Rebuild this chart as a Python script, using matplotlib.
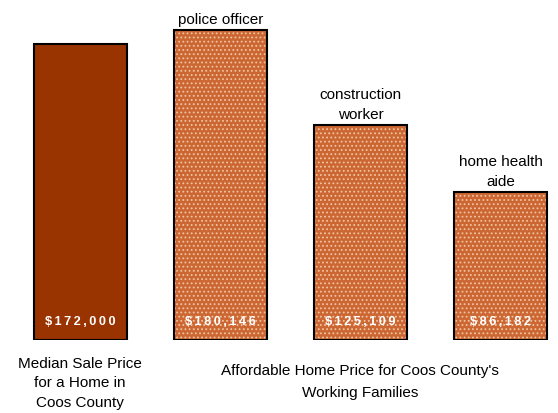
import numpy as np
import matplotlib.pyplot as plt

plt.rcParams['font.family'] = ['Liberation Sans', 'DejaVu Sans']
plt.rcParams['hatch.linewidth'] = 0.8

values = [172000, 180146, 125109, 86182]
value_labels = ['$172,000', '$180,146', '$125,109', '$86,182']
top_labels = ['', 'police officer', 'construction\nworker', 'home health\naide']
colors = ['#993300', '#CC6633', '#CC6633', '#CC6633']
hatches = ['', '....', '....', '....']

fig = plt.figure(figsize=(5.58, 4.13), dpi=100)
ax = fig.add_axes([0, 73/413, 1, 340/413])
x = np.arange(len(values))
# fill with light dot pattern, then black outline on top
fills = ax.bar(x, values, width=0.664, color=colors, edgecolor='#F0C4A0', linewidth=0)
for b, h in zip(fills, hatches):
    b.set_hatch(h)
ax.bar(x, values, width=0.664, fill=False, edgecolor='black', linewidth=1.5)
ax.set_xlim(-0.575, 3.411)
ax.set_ylim(0, 197560)
ax.axis('off')

for i, v in enumerate(values):
    ax.text(i, 10500, '\u2009'.join(value_labels[i]), ha='center', va='center', color='white',
            fontweight='bold', fontsize=9.2)
    if top_labels[i]:
        ax.text(i, v + 1800, top_labels[i], ha='center', va='bottom', fontsize=11,
                linespacing=1.5)

fig.text(80/558, 1 - 383/413, 'Median Sale Price\nfor a Home in\nCoos County',
         ha='center', va='center', fontsize=11, linespacing=1.5)
fig.text(360/558, 1 - 382/413, "Affordable Home Price for Coos County's\nWorking Families",
         ha='center', va='center', fontsize=11, linespacing=1.8)

plt.savefig('out.png', dpi=100)
